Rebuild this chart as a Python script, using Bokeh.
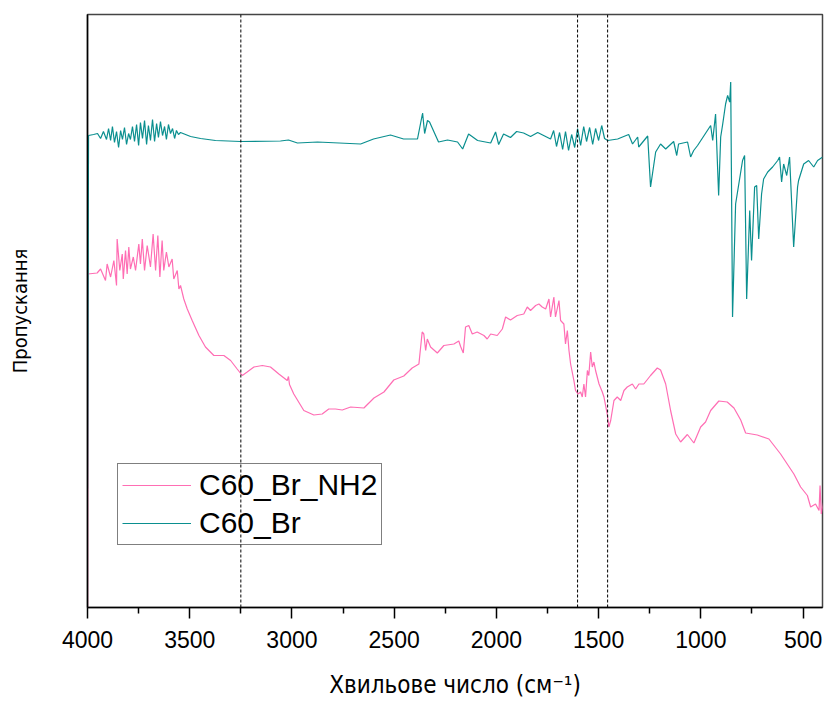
from bokeh.plotting import figure
from bokeh.models import Range1d, FixedTicker, Span, Legend
from bokeh.embed import file_html
from bokeh.resources import INLINE

# ---- data: wavenumber (cm^-1) and transmittance (arbitrary units) ----
br_wn = [4000, 3995, 3970, 3951, 3936, 3922, 3907, 3897, 3887, 3878, 3868, 3858, 3848, 3838,
         3829, 3819, 3809, 3799, 3790, 3780, 3770, 3760, 3750, 3741, 3731, 3721, 3711, 3702,
         3692, 3682, 3672, 3662, 3653, 3643, 3633, 3623, 3614, 3604, 3594, 3584, 3574, 3565,
         3555, 3545, 3496, 3447, 3374, 3251, 3056, 3017, 2973, 2875, 2664, 2601, 2518, 2454,
         2386, 2361, 2351, 2337, 2327, 2283, 2239, 2190, 2165, 2136, 2092, 2028, 2004, 1989,
         1965, 1931, 1901, 1867, 1833, 1798, 1769, 1735, 1720, 1706, 1691, 1676, 1662, 1647,
         1632, 1617, 1603, 1588, 1573, 1559, 1544, 1529, 1515, 1500, 1485, 1471, 1456, 1407,
         1353, 1334, 1309, 1304, 1260, 1246, 1221, 1197, 1172, 1133, 1118, 1109, 1065, 1050,
         1035, 1016, 952, 942, 928, 913, 903, 893, 879, 869, 859, 854, 845, 830, 796, 786,
         776, 761, 752, 737, 727, 717, 703, 693, 673, 649, 624, 615, 605, 595, 580, 566,
         546, 527, 522, 497, 473, 448, 429, 404]
br_t = [23.8, 94.4, 94.6, 94.8, 93.8, 95.2, 93.6, 95.8, 93.4, 96.2, 93.0, 95.2, 92.0, 95.4,
        93.6, 96.0, 92.6, 94.8, 93.6, 96.2, 93.2, 96.6, 92.4, 97.0, 93.8, 97.4, 92.6, 96.4,
        93.4, 97.6, 93.2, 96.8, 94.0, 97.2, 94.4, 96.2, 93.6, 96.6, 94.8, 95.8, 93.8, 95.4,
        94.6, 95.0, 94.2, 93.8, 93.4, 93.2, 93.3, 93.5, 92.9, 93.1, 92.7, 93.7, 94.5, 93.7,
        93.7, 98.9, 94.8, 97.4, 97.1, 93.1, 93.5, 93.1, 91.7, 94.7, 93.4, 92.9, 95.1, 92.6,
        94.7, 94.0, 95.2, 94.9, 94.2, 95.0, 94.4, 93.7, 95.4, 92.2, 95.0, 91.6, 95.2, 91.4,
        94.6, 92.0, 95.8, 92.4, 96.2, 93.2, 96.0, 92.6, 95.8, 93.4, 96.4, 93.8, 93.4, 93.7,
        94.6, 92.7, 94.1, 92.1, 94.3, 84.1, 91.1, 92.7, 91.7, 93.2, 90.4, 92.7, 93.1, 90.1,
        91.4, 92.4, 96.4, 93.4, 98.7, 82.4, 94.1, 96.7, 100.7, 102.4, 101.1, 105.1, 58.1, 80.7, 89.4, 90.4,
        61.7, 79.4, 69.4, 84.1, 84.4, 73.7, 82.7, 85.7, 87.1, 88.1, 89.4, 90.1, 85.1, 88.7, 86.4, 90.1,
        72.1, 84.1, 85.4, 88.7, 89.4, 88.1, 89.4, 90.1]

nh2_wn = [4000, 3998, 3953, 3936, 3912, 3904, 3887, 3871, 3858, 3855, 3842, 3830, 3825, 3814,
          3806, 3798, 3790, 3776, 3765, 3749, 3741, 3732, 3721, 3708, 3692, 3679, 3667, 3656,
          3646, 3635, 3627, 3614, 3602, 3586, 3578, 3561, 3553, 3545, 3529, 3512, 3488, 3455,
          3423, 3382, 3333, 3300, 3268, 3243, 3219, 3186, 3145, 3105, 3064, 3023, 3017, 3012,
          2991, 2942, 2893, 2852, 2820, 2787, 2754, 2713, 2648, 2599, 2550, 2502, 2453, 2412,
          2379, 2363, 2355, 2346, 2338, 2322, 2289, 2257, 2208, 2184, 2175, 2162, 2151, 2135,
          2118, 2094, 2061, 2045, 2028, 1996, 1971, 1955, 1931, 1898, 1866, 1849, 1833, 1808,
          1792, 1776, 1759, 1743, 1735, 1719, 1711, 1694, 1686, 1670, 1662, 1653, 1645, 1637,
          1621, 1613, 1601, 1588, 1580, 1572, 1564, 1555, 1548, 1539, 1531, 1523, 1515, 1498,
          1482, 1474, 1458, 1450, 1441, 1425, 1409, 1392, 1376, 1360, 1335, 1319, 1303, 1279,
          1246, 1213, 1197, 1172, 1148, 1123, 1099, 1066, 1034, 1001, 977, 952, 912, 871,
          838, 805, 781, 724, 667, 610, 545, 512, 479, 463, 439, 422, 417, 411, 398]
nh2_t = [-25.0, 66.7, 66.9, 67.7, 65.4, 68.7, 66.1, 69.4, 64.4, 73.7, 67.4, 70.7, 65.7, 71.4,
         66.7, 72.1, 67.7, 70.1, 67.4, 72.7, 68.7, 73.7, 67.4, 72.4, 68.1, 74.7, 67.4, 74.4,
         66.1, 73.4, 67.4, 71.1, 68.1, 69.7, 65.7, 67.4, 63.7, 64.4, 61.7, 59.7, 57.4, 54.4,
         52.1, 50.4, 50.4, 49.4, 47.7, 46.4, 47.1, 48.1, 48.4, 48.1, 46.7, 45.4, 46.2, 44.6,
         42.7, 39.4, 38.5, 38.7, 39.7, 39.7, 39.5, 40.1, 39.9, 41.9, 43.1, 45.5, 46.3, 47.9,
         48.7, 55.1, 54.7, 51.4, 53.7, 52.1, 50.9, 52.4, 52.7, 53.3, 52.2, 50.9, 56.1, 56.4,
         54.7, 55.1, 54.4, 53.7, 54.7, 54.4, 55.7, 58.1, 57.5, 58.4, 58.7, 60.1, 59.4, 60.4,
         60.7, 60.1, 59.7, 61.7, 58.1, 62.1, 58.1, 61.4, 57.4, 56.7, 52.7, 55.4, 51.4, 48.7,
         45.4, 43.4, 42.7, 43.1, 42.1, 44.7, 42.1, 47.4, 46.4, 51.1, 48.1, 49.1, 47.4, 44.7,
         43.1, 42.1, 38.7, 36.1, 37.4, 41.4, 42.1, 41.4, 43.4, 44.1, 44.7, 43.7, 44.7, 44.7,
         46.4, 47.9, 47.5, 44.7, 39.4, 34.7, 33.1, 34.6, 32.9, 36.1, 37.1, 39.4, 41.3, 41.1,
         39.9, 37.5, 34.9, 34.5, 33.7, 30.7, 26.7, 24.1, 22.4, 20.1, 20.7, 19.4, 24.4, 18.7, 21.4]

marker_wn = [3250, 1603, 1456]
x_ticks = [4000, 3500, 3000, 2500, 2000, 1500, 1000, 500]
x_minor = [3750, 3250, 2750, 2250, 1750, 1250, 750]
series_names = ["C60_Br_NH2", "C60_Br"]
x_title = "Хвильове число (см⁻¹)"
y_title = "Пропускання"

PINK = "#ff6eb4"
TEAL = "#0a8f8f"

p = figure(width=825, height=720, output_backend="svg", toolbar_location=None,
           x_range=Range1d(4000, 405), y_range=Range1d(0, 118.6),
           min_border_left=87, min_border_right=3, min_border_top=14, min_border_bottom=113)
p.background_fill_color = "white"
p.border_fill_color = "white"
p.outline_line_color = "#444444"
p.outline_line_width = 1.5
p.xgrid.visible = False
p.ygrid.visible = False

for loc in marker_wn:
    p.add_layout(Span(location=loc, dimension="height", line_color="black",
                      line_dash="3 2", line_width=1))

r1 = p.line(nh2_wn, nh2_t, line_color=PINK, line_width=1.2)
r2 = p.line(br_wn, br_t, line_color=TEAL, line_width=1.2)

legend = Legend(items=[(series_names[0], [r1]), (series_names[1], [r2])],
                location=(30, 62))
legend.label_text_font = "Liberation Sans"
legend.label_text_font_size = "30px"
legend.label_text_color = "black"
legend.glyph_width = 69
legend.glyph_height = 34
legend.label_height = 34
legend.label_standoff = 8
legend.padding = 4
legend.spacing = 4
legend.margin = 0
legend.border_line_color = "black"
legend.border_line_width = 1
legend.background_fill_alpha = 0
p.add_layout(legend)

xa = p.xaxis[0]
xa.ticker = FixedTicker(ticks=x_ticks, minor_ticks=x_minor)
xa.axis_line_color = "black"
xa.axis_line_width = 1.5
xa.major_tick_in = 0
xa.major_tick_out = 11
xa.minor_tick_in = 0
xa.minor_tick_out = 6
xa.major_tick_line_width = 1.5
xa.minor_tick_line_width = 1.5
xa.major_label_text_font = "Liberation Sans"
xa.major_label_text_font_size = "23px"
xa.major_label_text_color = "black"
xa.major_label_standoff = 12
xa.axis_label = x_title
xa.axis_label_text_font = "DejaVu Sans Condensed"
xa.axis_label_text_font_size = "24px"
xa.axis_label_text_font_style = "normal"
xa.axis_label_text_color = "black"
xa.axis_label_standoff = 20

ya = p.yaxis[0]
ya.ticker = FixedTicker(ticks=[])
ya.axis_line_color = "black"
ya.axis_line_width = 1.5
ya.major_tick_line_color = None
ya.minor_tick_line_color = None
ya.major_label_text_font_size = "0px"
ya.axis_label = y_title
ya.axis_label_text_font = "DejaVu Sans Condensed"
ya.axis_label_text_font_size = "20px"
ya.axis_label_text_font_style = "normal"
ya.axis_label_text_color = "black"
ya.axis_label_standoff = 56

open("out.html", "w").write(file_html(p, INLINE))
